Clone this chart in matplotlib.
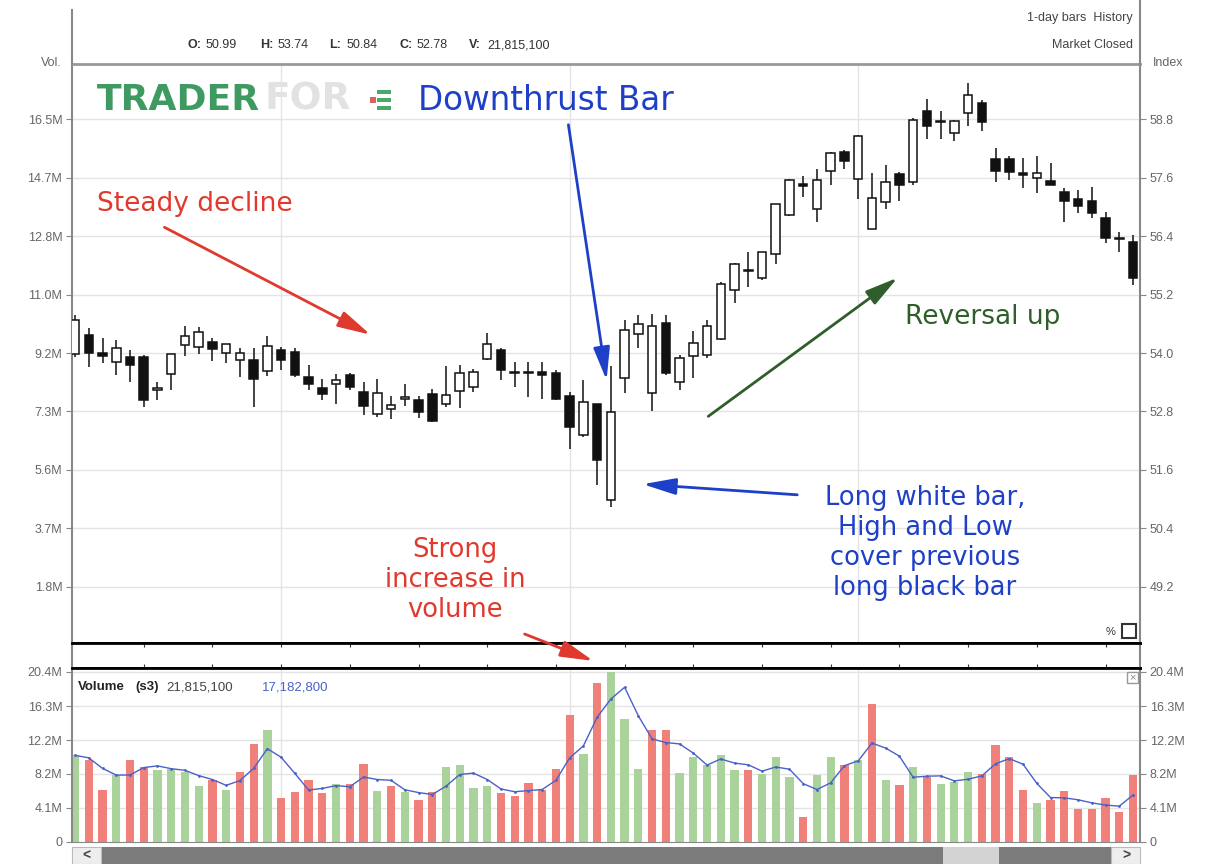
import matplotlib
matplotlib.use("Agg")
import matplotlib.pyplot as plt
from matplotlib.patches import Rectangle, FancyArrowPatch
from matplotlib.lines import Line2D
import pandas as pd

W, H = 1212, 864

# daily OHLC
opens = [53.99, 54.37, 53.99, 53.81, 53.91, 53.92, 53.25, 53.57, 54.17, 54.13,
         54.23, 54.01, 53.86, 53.86, 53.63, 54.06, 54.03, 53.50, 53.29, 53.36,
         53.54, 53.21, 52.74, 52.86, 53.06, 53.04, 53.15, 52.96, 53.23, 53.30,
         53.87, 54.06, 53.61, 53.59, 53.61, 53.58, 53.11, 52.32, 52.96, 50.99,
         53.48, 54.39, 53.17, 54.62, 53.41, 53.93, 53.96, 54.28, 55.29, 55.71,
         55.53, 56.03, 56.84, 57.46, 56.96, 57.73, 58.12, 57.57, 56.55, 57.09,
         57.67, 57.50, 58.97, 58.74, 58.51, 58.92, 59.13, 57.98, 57.98, 57.70,
         57.59, 57.52, 57.31, 57.17, 57.11, 56.78, 56.37, 56.28]
highs = [54.79, 54.51, 54.30, 54.27, 54.06, 53.96, 53.41, 53.99, 54.56, 54.54,
         54.30, 54.19, 54.10, 54.10, 54.35, 54.13, 54.10, 53.75, 53.46, 53.56,
         53.59, 53.41, 53.46, 53.11, 53.37, 53.11, 53.27, 53.73, 53.75, 53.68,
         54.42, 54.10, 53.82, 53.82, 53.82, 53.65, 53.20, 53.44, 52.96, 53.74,
         54.67, 54.78, 54.81, 54.78, 53.96, 54.46, 54.67, 55.46, 55.85, 56.07,
         56.07, 57.06, 57.57, 57.64, 57.78, 58.12, 58.17, 58.48, 57.70, 57.85,
         57.71, 58.83, 59.22, 58.96, 58.79, 59.54, 59.20, 58.20, 58.05, 58.00,
         58.05, 57.89, 57.38, 57.35, 57.41, 56.90, 56.48, 56.42]
lows = [53.91, 53.72, 53.79, 53.54, 53.41, 52.89, 53.03, 53.25, 53.94, 53.99,
        53.84, 53.79, 53.50, 52.89, 53.52, 53.65, 53.51, 53.25, 53.03, 52.96,
        53.25, 52.72, 52.68, 52.65, 52.92, 52.67, 52.58, 52.90, 52.88, 53.20,
        53.86, 53.44, 53.30, 53.10, 53.06, 53.04, 52.03, 52.28, 51.30, 50.84,
        53.17, 54.10, 52.80, 53.55, 53.24, 53.48, 53.89, 54.27, 55.02, 55.36,
        55.49, 55.83, 56.82, 57.20, 56.69, 57.44, 57.78, 57.16, 56.55, 56.96,
        57.12, 57.45, 58.39, 58.39, 58.34, 58.65, 58.56, 57.50, 57.55, 57.39,
        57.28, 57.44, 56.69, 56.87, 56.76, 56.25, 56.08, 55.39]
closes = [54.67, 54.01, 53.94, 54.10, 53.75, 53.03, 53.28, 53.98, 54.35, 54.43,
          54.08, 54.18, 53.99, 53.46, 54.14, 53.86, 53.54, 53.36, 53.15, 53.44,
          53.30, 52.92, 53.17, 52.94, 53.07, 52.79, 52.60, 53.13, 53.58, 53.61,
          54.19, 53.66, 53.58, 53.61, 53.54, 53.06, 52.48, 52.99, 51.80, 52.78,
          54.47, 54.59, 54.55, 53.58, 53.89, 54.20, 54.55, 55.42, 55.83, 55.68,
          56.07, 57.05, 57.55, 57.42, 57.54, 58.10, 57.95, 58.46, 57.18, 57.50,
          57.45, 58.79, 58.65, 58.77, 58.77, 59.30, 58.75, 57.74, 57.71, 57.65,
          57.69, 57.45, 57.12, 57.02, 56.87, 56.37, 56.34, 55.54]

# volume in millions, g = up day, r = down day
vol_m = [10.4, 9.8, 6.3, 8.0, 9.8, 9.0, 8.6, 8.8, 8.4, 6.7,
         7.4, 6.3, 8.4, 11.8, 13.4, 5.3, 6.0, 7.4, 5.9, 7.0,
         7.0, 9.4, 6.1, 6.7, 6.0, 5.1, 6.0, 9.0, 9.3, 6.5,
         6.7, 5.9, 5.5, 7.1, 6.3, 8.8, 15.2, 10.6, 19.1, 21.8,
         14.8, 8.8, 13.5, 13.5, 8.3, 10.2, 9.2, 10.5, 8.7, 8.6,
         8.2, 10.2, 7.8, 3.0, 8.1, 10.2, 9.2, 9.8, 16.6, 7.4,
         6.9, 9.0, 7.8, 7.0, 7.2, 8.4, 8.2, 11.6, 10.2, 6.2,
         4.7, 5.1, 6.1, 4.0, 4.0, 5.3, 3.6, 8.0]
vol_dir = ("grrgrrggggrgrrgrrrrgrrgrgrrggggrrrrrrgrg"
           "ggrrgggggrgggrggrgrgrgrgggrrrrgrrrrrrr")

price_ticks = [49.2, 50.4, 51.6, 52.8, 54.0, 55.2, 56.4, 57.6, 58.8]
price_labels = ['49.2', '50.4', '51.6', '52.8', '54.0', '55.2', '56.4', '57.6', '58.8']
vol_side_labels = ['1.8M', '3.7M', '5.6M', '7.3M', '9.2M', '11.0M', '12.8M', '14.7M', '16.5M']
vol_ticks = [0, 4.1, 8.2, 12.2, 16.3, 20.4]
vol_labels = ['0', '4.1M', '8.2M', '12.2M', '16.3M', '20.4M']
month_marks = [15, 36, 57]
week_marks = list(range(5, 78, 5))

plt.rcParams['font.family'] = ['Liberation Sans', 'DejaVu Sans']

n = len(closes)
xs = list(range(n))
XLIM = (-0.22, 77.51)


def box(x0, y0, x1, y1):
    return [x0 / W, 1 - y1 / H, (x1 - x0) / W, (y1 - y0) / H]


def fp(x, y):
    return (x / W, 1 - y / H)


def px_rect(x0, y0, x1, y1, **kw):
    # rectangle given by its pixel corners (top-left origin)
    fig.add_artist(Rectangle(fp(x0, y1), (x1 - x0) / W, (y1 - y0) / H,
                             transform=fig.transFigure, **kw))


fig = plt.figure(figsize=(W / 100, H / 100), dpi=100)
fig.patch.set_facecolor('white')
GRID = '#e4e4e4'
LBL = '#666666'

# ---- price panel
ax = fig.add_axes(box(72, 64, 1140, 643))
ax.set_xlim(*XLIM)
ax.set_ylim(48.05, 59.93)
for i in xs:
    o, h, l, c = opens[i], highs[i], lows[i], closes[i]
    ax.vlines(i, l, h, color='#111111', lw=1.1, zorder=2)
    bot = min(o, c)
    hgt = max(abs(c - o), 0.03)
    fc = 'white' if c >= o else '#111111'
    ax.add_patch(Rectangle((i - 0.31, bot), 0.62, hgt, facecolor=fc,
                           edgecolor='#111111', lw=1.1, zorder=3))
ax.set_yticks(price_ticks)
ax.set_yticklabels(vol_side_labels)
ax.set_xticks([])
ax.tick_params(axis='y', colors='#888888', labelcolor=LBL, labelsize=9, length=4, pad=3)
for p in price_ticks:
    ax.axhline(p, color=GRID, lw=1, zorder=0)
for m in month_marks:
    ax.axvline(m, color=GRID, lw=1, zorder=0)
for s in ['left', 'right']:
    ax.spines[s].set_color('#888888')
    ax.spines[s].set_linewidth(1.5)
ax.spines['top'].set_color('#999999')
ax.spines['top'].set_linewidth(2)
ax.spines['bottom'].set_color('black')
ax.spines['bottom'].set_linewidth(2)

ax2 = ax.twinx()
ax2.set_ylim(ax.get_ylim())
ax2.set_yticks(price_ticks)
ax2.set_yticklabels(price_labels)
ax2.tick_params(axis='y', colors='#888888', labelcolor=LBL, labelsize=9, length=4, pad=3)
for s in ax2.spines.values():
    s.set_visible(False)

# ---- date strip
axd = fig.add_axes(box(72, 643, 1140, 668))
axd.set_xlim(*XLIM)
axd.set_ylim(0, 1)
axd.set_yticks([])
axd.set_xticks(week_marks)
axd.set_xticklabels([])
axd.tick_params(axis='x', direction='in', top=True, bottom=True, length=3, color='#333333')
for s in ['left', 'right']:
    axd.spines[s].set_color('#888888')
    axd.spines[s].set_linewidth(1.5)
for s in ['top', 'bottom']:
    axd.spines[s].set_color('black')
    axd.spines[s].set_linewidth(2)

# ---- volume panel
axv = fig.add_axes(box(72, 668, 1140, 842))
axv.set_xlim(*XLIM)
axv.set_ylim(0, 20.88)
bar_cols = ['#a9d39a' if d == 'g' else '#f0807a' for d in vol_dir]
axv.bar(xs, [min(v, 20.4) for v in vol_m], width=0.6, color=bar_cols, zorder=2)
ma = pd.Series(vol_m).rolling(3, min_periods=1).mean()
axv.plot(xs, ma, color='#4a62c8', lw=1, marker='.', markersize=2, zorder=3)
axv.set_yticks(vol_ticks)
axv.set_yticklabels(vol_labels)
axv.set_xticks([])
axv.tick_params(axis='y', colors='#888888', labelcolor=LBL, labelsize=9, length=4, pad=3)
for v in vol_ticks[1:]:
    axv.axhline(v, color=GRID, lw=1, zorder=0)
for m in month_marks:
    axv.axvline(m, color=GRID, lw=1, zorder=0)
for s in ['left', 'right']:
    axv.spines[s].set_color('#888888')
    axv.spines[s].set_linewidth(1.5)
axv.spines['top'].set_color('black')
axv.spines['top'].set_linewidth(2)
axv.spines['bottom'].set_color('#888888')
axv2 = axv.twinx()
axv2.set_ylim(axv.get_ylim())
axv2.set_yticks(vol_ticks)
axv2.set_yticklabels(vol_labels)
axv2.tick_params(axis='y', colors='#888888', labelcolor=LBL, labelsize=9, length=4, pad=3)
for s in axv2.spines.values():
    s.set_visible(False)

# ---- frame lines above the panels
fig.add_artist(Line2D([72 / W, 72 / W], [1 - 10 / H, 1 - 64 / H], color='#888888', lw=1.5,
                      transform=fig.transFigure))
fig.add_artist(Line2D([1140 / W, 1140 / W], [1.0, 1 - 64 / H], color='#888888', lw=1.5,
                      transform=fig.transFigure))

# ---- header
hy = 1 - 45 / H
for lab, val, x0 in [('O:', '50.99', 188), ('H:', '53.74', 260), ('L:', '50.84', 329),
                     ('C:', '52.78', 399), ('V:', '21,815,100', 469)]:
    fig.text(x0 / W, hy, lab, fontsize=9, fontweight='bold', color='#333333', va='center')
    fig.text((x0 + 18) / W, hy, val, fontsize=9, color='#333333', va='center')
fig.text(1133 / W, 1 - 18 / H, '1-day bars  History', fontsize=9, color='#444444',
         ha='right', va='center')
fig.text(1133 / W, 1 - 45 / H, 'Market Closed', fontsize=9, color='#444444',
         ha='right', va='center')
fig.text(62 / W, 1 - 63 / H, 'Vol.', fontsize=9, color=LBL, ha='right', va='center')
fig.text(1153 / W, 1 - 63 / H, 'Index', fontsize=9, color=LBL, ha='left', va='center')

# volume legend
vy = 1 - 687 / H
fig.text(78 / W, vy, 'Volume', fontsize=9.5, fontweight='bold', color='#222222', va='center')
fig.text(135 / W, vy, '(s3)', fontsize=9.5, fontweight='bold', color='#222222', va='center')
fig.text(166 / W, vy, '21,815,100', fontsize=9.5, color='#444444', va='center')
fig.text(262 / W, vy, '17,182,800', fontsize=9.5, color='#4a62c8', va='center')
px_rect(1127, 672, 1138, 683, facecolor='white', edgecolor='#999999', lw=1)
fig.text(1132.5 / W, 1 - 677.5 / H, '×', fontsize=8, color='#888888', ha='center', va='center')

# percent toggle
fig.text(1106 / W, 1 - 632 / H, '%', fontsize=8, color='#333333', va='center')
px_rect(1122, 624, 1136, 638, facecolor='white', edgecolor='#333333', lw=1.5)

# scrollbar
px_rect(72, 847, 1140, 864, facecolor='#7b7b7b', edgecolor='none')
px_rect(943, 847, 999, 864, facecolor='#d3d3d3', edgecolor='none')
for bx in [72, 1111]:
    px_rect(bx, 847, bx + 29, 864, facecolor='#eeeeee', edgecolor='#bbbbbb', lw=0.8)
fig.text(86 / W, 1 - 856 / H, '<', fontsize=10, fontweight='bold', color='#444444',
         ha='center', va='center')
fig.text(1126 / W, 1 - 856 / H, '>', fontsize=10, fontweight='bold', color='#444444',
         ha='center', va='center')

# ---- logo and annotations
ann = 'DejaVu Sans'
fig.text(97 / W, 1 - 100 / H, 'TRADER', family=ann, fontsize=26, fontweight='bold',
         color='#3f9a62', va='center')
fig.text(264 / W, 1 - 100 / H, 'FOR', family=ann, fontsize=27, fontweight='bold',
         color='#e2e2e2', va='center')
# small logo mark between FOR and the caption
for yy in (90, 98, 106):
    px_rect(377, yy, 391, yy + 4, facecolor='#4aa86a', edgecolor='none')
px_rect(370, 97, 376, 103, facecolor='#e06060', edgecolor='none')
fig.text(418 / W, 1 - 100 / H, 'Downthrust Bar', family=ann, fontsize=23.5,
         color='#1e3fc8', va='center')
fig.text(97 / W, 1 - 204 / H, 'Steady decline', family=ann, fontsize=19,
         color='#e0392e', va='center')
fig.text(905 / W, 1 - 317 / H, 'Reversal up', family=ann, fontsize=19,
         color='#2f5e2a', va='center')
fig.text(925 / W, 1 - 543 / H, 'Long white bar,\nHigh and Low\ncover previous\nlong black bar',
         family=ann, fontsize=18.5, color='#1e3fc8', ha='center', va='center',
         linespacing=1.2)
fig.text(455 / W, 1 - 580 / H, 'Strong\nincrease in\nvolume', family=ann, fontsize=18.5,
         color='#e0392e', ha='center', va='center', linespacing=1.2)

arrows = [((162, 226), (373, 336), '#e0392e'),
          ((568, 122), (607, 383), '#1e3fc8'),
          ((706, 418), (900, 276), '#2f5e2a'),
          ((800, 495), (640, 484), '#1e3fc8'),
          ((522, 633), (596, 662), '#e0392e')]
for tail, tip, col in arrows:
    fig.add_artist(FancyArrowPatch(fp(*tail), fp(*tip), transform=fig.transFigure,
                                   arrowstyle='-|>,head_length=1.0,head_width=0.25',
                                   mutation_scale=20, lw=2, color=col, zorder=10))

fig.savefig('out.png', dpi=100, facecolor='white')
